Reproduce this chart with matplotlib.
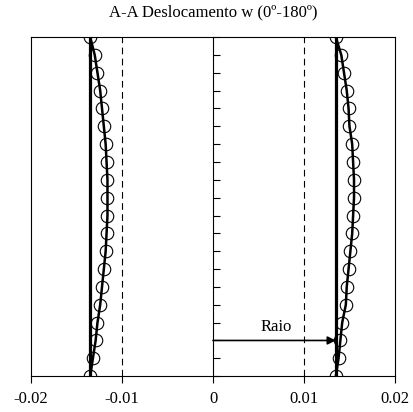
import numpy as np
import matplotlib.pyplot as plt

plt.rcParams["font.family"] = ["Liberation Serif", "DejaVu Serif"]

# Data (index 0 at the top of the section, 19 at the bottom)
RAIO = 0.0135
y_pos = np.arange(19, -1, -1)

w_left = [-0.0135, -0.0130, -0.0127, -0.0124, -0.0122, -0.0120, -0.0118,
          -0.0117, -0.0116, -0.0116, -0.0116, -0.0117, -0.0118, -0.0120,
          -0.0122, -0.0124, -0.0127, -0.0129, -0.0132, -0.0135]
w_right = [0.0135, 0.0141, 0.0144, 0.0147, 0.0149, 0.0150, 0.0153,
           0.0154, 0.0155, 0.0155, 0.0154, 0.0153, 0.0151, 0.0149,
           0.0147, 0.0146, 0.0142, 0.0140, 0.0138, 0.0135]

x_ticks = [-0.02, -0.01, 0, 0.01, 0.02]
x_labels = ["-0.02", "-0.01", "0", "0.01", "0.02"]

fig = plt.figure(figsize=(4.14, 4.12), dpi=100)
ax = fig.add_axes([0.075, 0.087, 0.879, 0.823])

# undeformed section
ax.plot([-RAIO, -RAIO], [0, 19], color="black", lw=2.3, zorder=3)
ax.plot([RAIO, RAIO], [0, 19], color="black", lw=2.3, zorder=3)

# deformed section
for w in (w_left, w_right):
    ax.plot(w, y_pos, color="black", lw=1.8, zorder=4)
    ax.plot(w, y_pos, linestyle="none", marker="o", ms=9,
            markerfacecolor="none", markeredgecolor="black", mew=0.8, zorder=5)

# dashed gridlines
for xv in (-0.01, 0.01):
    ax.axvline(xv, color="black", lw=0.8, ls=(0, (6, 4)), zorder=1)

ax.annotate("", xy=(RAIO, 2), xytext=(0, 2),
            arrowprops=dict(arrowstyle="-|>", color="black", lw=1.2,
                            mutation_scale=12, shrinkA=0, shrinkB=0))
ax.text(0.007, 2.3, "Raio", ha="center", va="bottom", fontsize=12)

ax.set_xlim(-0.02, 0.02)
ax.set_ylim(0, 19)
ax.set_xticks(x_ticks)
ax.set_xticklabels(x_labels, fontsize=12)
ax.tick_params(axis="x", direction="out", length=5, width=0.8, pad=6)
ax.set_yticks([])
for sp in ax.spines.values():
    sp.set_linewidth(0.8)

# vertical axis through x = 0
yax = ax.secondary_yaxis(0.5)
yax.set_yticks(np.arange(0, 20))
yax.set_yticklabels([])
yax.tick_params(direction="out", length=5, width=0.8)
yax.spines["left"].set_linewidth(0.8)

ax.set_title("A-A Deslocamento w (0º-180º)", fontsize=12, pad=15)

fig.savefig("out.png", dpi=100)
